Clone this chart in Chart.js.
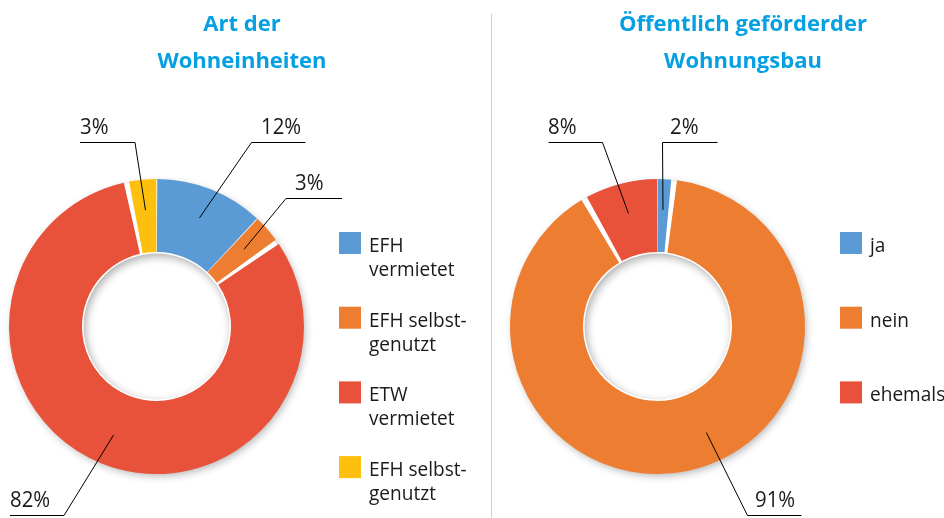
<!DOCTYPE html>
<html><head><meta charset="utf-8">
<script src="https://cdn.jsdelivr.net/npm/chart.js@4"></script>
<style>
html,body{margin:0;padding:0;background:#fff;width:944px;height:518px;overflow:hidden}
#wrap{position:relative;width:944px;height:518px}
canvas{position:absolute;left:0;top:0}
#divider{position:absolute;left:491px;top:14px;width:1px;height:504px;background:#cfcfcf}
</style></head><body>
<div id="wrap">
<canvas id="c1" width="944" height="518"></canvas>
<canvas id="c2" width="944" height="518"></canvas>
<div id="divider"></div>
</div>
<script>
// ---- data ----
const leftTitle = ["Art der", "Wohneinheiten"];
const leftCategories = [["EFH", "vermietet"], ["EFH selbst-", "genutzt"], ["ETW", "vermietet"], ["EFH selbst-", "genutzt"]];
const leftValues = [12, 3, 82, 3];
const leftColors = ["#5B9BD5", "#ED7D31", "#E8513A", "#FDC00F"];

const rightTitle = ["Öffentlich geförderder", "Wohnungsbau"];
const rightCategories = [["ja"], ["nein"], ["ehemals"]];
const rightValues = [1.5, 90.5, 8];
const rightColors = ["#5B9BD5", "#ED7D31", "#E8513A"];

const FONT = '"Open Sans", "Noto Sans", sans-serif';

// ---- plugins ----
const shadowPlugin = {
  id: 'ringShadow',
  beforeDatasetsDraw(chart) {
    const meta = chart.getDatasetMeta(0);
    if (!meta.data.length) return;
    const p = meta.data[0].getProps(['x', 'y', 'innerRadius', 'outerRadius'], true);
    const ctx = chart.ctx;
    ctx.save();
    ctx.shadowColor = 'rgba(0,0,0,0.32)';
    ctx.shadowBlur = 9;
    ctx.shadowOffsetX = 2;
    ctx.shadowOffsetY = 3;
    ctx.fillStyle = '#fff';
    ctx.beginPath();
    ctx.arc(p.x, p.y, p.outerRadius, 0, Math.PI * 2);
    ctx.arc(p.x, p.y, p.innerRadius, Math.PI * 2, 0, true);
    ctx.closePath();
    ctx.fill();
    ctx.restore();
  }
};

function squeezedText(ctx, text, x, y, sx) {
  ctx.save();
  ctx.translate(x, y);
  ctx.scale(sx, 1);
  ctx.fillText(text, 0, 0);
  ctx.restore();
}

const leaderPlugin = {
  id: 'leaders',
  afterDatasetsDraw(chart, args, opts) {
    const ctx = chart.ctx;
    const meta = chart.getDatasetMeta(0);
    const vals = chart.data.datasets[0].data;
    const total = vals.reduce((a, b) => a + b, 0);
    ctx.save();
    ctx.font = opts.font;
    ctx.fillStyle = opts.color;
    ctx.strokeStyle = '#000';
    ctx.lineWidth = 1;
    ctx.textBaseline = 'alphabetic';
    meta.data.forEach((arc, i) => {
      const c = opts.items[i];
      if (!c) return;
      const p = arc.getProps(['x', 'y', 'startAngle', 'endAngle', 'innerRadius', 'outerRadius'], true);
      const f = c.frac ?? 0.5;
      const a = p.startAngle + (p.endAngle - p.startAngle) * f;
      const r = p.innerRadius + (p.outerRadius - p.innerRadius) * 0.6;
      const ax = p.x + Math.cos(a) * r, ay = p.y + Math.sin(a) * r;
      ctx.beginPath();
      ctx.moveTo(c.hx1, c.hy); ctx.lineTo(c.hx2, c.hy);
      ctx.moveTo(c.ex, c.hy); ctx.lineTo(ax, ay);
      ctx.stroke();
      squeezedText(ctx, Math.round(vals[i] / total * 100) + '%', c.tx, c.ty, 0.97);
    });
    ctx.restore();
  }
};

const decorPlugin = {
  id: 'decor',
  afterDraw(chart, args, opts) {
    const ctx = chart.ctx;
    ctx.save();
    ctx.font = opts.titleFont;
    ctx.fillStyle = opts.titleColor;
    ctx.textAlign = 'center';
    opts.title.forEach((t, i) => ctx.fillText(t, opts.titleX, opts.titleY + i * opts.titleLH));
    ctx.textAlign = 'left';
    const labels = chart.data.labels;
    const colors = chart.data.datasets[0].backgroundColor;
    labels.forEach((lab, i) => {
      const y0 = opts.legendY + i * opts.legendStep;
      ctx.fillStyle = colors[i];
      ctx.fillRect(opts.legendX, y0, 22, 22);
      ctx.fillStyle = opts.textColor;
      ctx.font = opts.legendFont;
      (Array.isArray(lab) ? lab : [lab]).forEach((ln, j) =>
        squeezedText(ctx, ln, opts.legendX + 30, y0 + 20 + j * 24, 0.93));
    });
    ctx.restore();
  }
};

function makeChart(id, cats, vals, colors, padding, decor, leaders) {
  return new Chart(document.getElementById(id), {
    type: 'doughnut',
    data: {
      labels: cats,
      datasets: [{ data: vals, backgroundColor: colors, borderWidth: 0, spacing: 3 }]
    },
    options: {
      responsive: false,
      animation: false,
      events: [],
      cutout: '50%',
      layout: { padding },
      plugins: {
        legend: { display: false },
        tooltip: { enabled: false },
        decor,
        leaders
      }
    },
    plugins: [shadowPlugin, leaderPlugin, decorPlugin]
  });
}

makeChart('c1', leftCategories, leftValues, leftColors,
  { left: 9, right: 640, top: 179, bottom: 44 },
  { title: leftTitle, titleX: 242, titleY: 31, titleLH: 37, titleFont: 'bold 22px ' + FONT, titleColor: '#05A0E2',
    legendX: 339, legendY: 232, legendStep: 74.7, legendFont: '20.5px ' + FONT, textColor: '#1a1a1a' },
  { font: '21px ' + FONT, color: '#1a1a1a', items: [
    { hx1: 251.5, hx2: 305.5, hy: 142.5, ex: 251.5, tx: 261, ty: 134 },
    { hx1: 286, hx2: 342, hy: 198.5, ex: 286, tx: 295, ty: 190 },
    { hx1: 10, hx2: 64, hy: 515.5, ex: 64, tx: 10, ty: 507 },
    { hx1: 80, hx2: 135, hy: 142.5, ex: 135, tx: 80, ty: 134 }
  ]});

makeChart('c2', rightCategories, rightValues, rightColors,
  { left: 510, right: 139, top: 179, bottom: 44 },
  { title: rightTitle, titleX: 743, titleY: 31, titleLH: 37, titleFont: 'bold 22px ' + FONT, titleColor: '#05A0E2',
    legendX: 840, legendY: 232, legendStep: 74.7, legendFont: '20.5px ' + FONT, textColor: '#1a1a1a' },
  { font: '21px ' + FONT, color: '#1a1a1a', items: [
    { hx1: 662.5, hx2: 717.5, hy: 142.5, ex: 662.5, tx: 670, ty: 134 },
    { hx1: 747.5, hx2: 801.5, hy: 515.5, ex: 747.5, tx: 755, ty: 507, frac: 0.46 },
    { hx1: 548.5, hx2: 602.5, hy: 142.5, ex: 602.5, tx: 548, ty: 134 }
  ]});
</script>
</body></html>
